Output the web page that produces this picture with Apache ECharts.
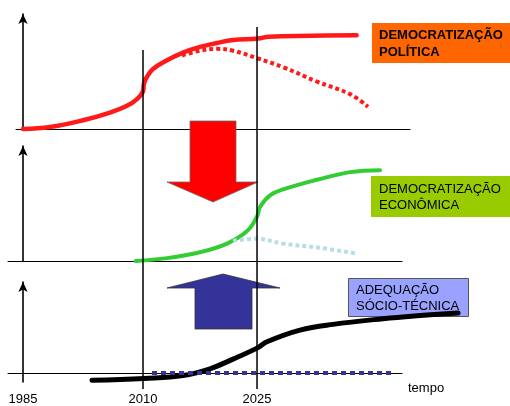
<!DOCTYPE html>
<html>
<head>
<meta charset="utf-8">
<script src="https://cdn.jsdelivr.net/npm/echarts@6/dist/echarts.min.js"></script>
<style>
  html, body { margin: 0; padding: 0; background: #fff; }
  #chart { width: 510px; height: 406px; }
</style>
</head>
<body>
<div id="chart"></div>
<script>
// Timeline ticks (schematic time index; 1985 = 0, 2010 = 100)
const tickYears = ['1985', '2010', '2025'];
const tickPos = [0, 100, 195];
const timeAxisName = 'tempo';

// Democratização política: realised path and the declining alternative
const politicaX = [0, 22.5, 50, 72.5, 86.7, 95, 100, 100.8, 103.3, 108.3, 120, 133.3, 147.5, 161.7, 175, 195.8, 205, 240, 278];
const politicaY = [0, 1.7, 7.6, 14.3, 20.2, 26, 32.8, 39.5, 45.4, 52.1, 59.7, 66.4, 71.4, 74.8, 77.3, 78.6, 80.3, 81, 81.6];
const politicaAltX = [132.5, 147.5, 161.7, 175, 195.8, 216.7, 245, 272.5, 287.5];
const politicaAltY = [63.9, 68.1, 69.7, 68.1, 61.3, 53.8, 41.2, 30.3, 19.3];

// Democratização econômica and its stagnating alternative
const economicaX = [94, 120, 147.5, 170, 186.7, 195, 197.5, 205.8, 216.7, 245, 272.5, 297.5];
const economicaY = [0, 2.5, 7.6, 15.1, 26, 38.7, 47, 57.1, 62.2, 70.6, 77.3, 79];
const economicaAltX = [175, 195, 216.7, 245, 276.7];
const economicaAltY = [17.6, 19.3, 15.1, 11.8, 6.7];

// Adequação sócio-técnica and the flat alternative
const adequacaoX = [57.5, 100.8, 133.3, 155.8, 175, 195.8, 203.3, 230.8, 258.3, 300, 328.3, 362.5];
const adequacaoY = [0, 2, 4.9, 11.8, 21.6, 33.3, 39.2, 51, 56.9, 62.7, 65.7, 68.6];
const adequacaoAltX = [107.5, 308];
const adequacaoAltY = [0, 0];

// Vertical guides at 2010 and 2025 (overlay units: 0 = top of canvas)
const guideX = [100, 195];
const guideTop = [50, 27];
const guideBottom = [389, 389];

const FONT = 'Liberation Sans, Arial, sans-serif';
const zip = (xs, ys) => xs.map((x, i) => [x, ys[i]]);

const chart = echarts.init(document.getElementById('chart'), null, { renderer: 'canvas' });

const baseX = (min, max, extra) => Object.assign({
  type: 'value', min: min, max: max,
  axisLine: { show: true, onZero: true, lineStyle: { color: '#000', width: 1 } },
  axisTick: { show: false }, axisLabel: { show: false }, splitLine: { show: false }
}, extra || {});

const baseY = (min, max) => ({
  type: 'value', min: min, max: max,
  axisLine: { show: true, onZero: true, symbol: ['none', 'arrow'], symbolSize: [7, 10],
    lineStyle: { color: '#000', width: 1.6 } },
  axisTick: { show: false }, axisLabel: { show: false }, splitLine: { show: false }
});

const hiddenAxis = (grid, min, max, inverse) => ({
  gridIndex: grid, type: 'value', min: min, max: max, inverse: !!inverse, show: false
});

const option = {
  backgroundColor: '#fff',
  animation: false,
  grid: [
    { left: 16, right: 100, top: 14, bottom: 277 },   // política
    { left: 8, right: 108, top: 146, bottom: 145 },   // econômica
    { left: 8, right: 108, top: 282, bottom: 16 },    // sócio-técnica (axes)
    { left: 8, right: 108, top: 0, bottom: 0 },       // full-height guides
    { left: 8, right: 0, top: 282, bottom: 16 }       // sócio-técnica curve, wider span
  ],
  xAxis: [
    baseX(-5.83, 322.5, { gridIndex: 0 }),
    baseX(-12.5, 315.8, { gridIndex: 1 }),
    baseX(-12.5, 315.8, {
      gridIndex: 2,
      axisLabel: {
        show: true, customValues: tickPos, margin: 11,
        fontFamily: FONT, fontSize: 13, color: '#000',
        formatter: v => tickYears[tickPos.indexOf(v)] || ''
      }
    }),
    hiddenAxis(3, -12.5, 315.8),
    hiddenAxis(4, -12.5, 405.8)
  ],
  yAxis: [
    Object.assign(baseY(0, 100), { gridIndex: 0 }),
    Object.assign(baseY(0, 100), { gridIndex: 1 }),
    Object.assign(baseY(-9.8, 100), { gridIndex: 2 }),
    hiddenAxis(3, 0, 406, true),
    hiddenAxis(4, -9.8, 100)
  ],
  graphic: [
    // Time axis title, just below the end of the bottom baseline
    { type: 'text', z: 1, x: 408, y: 382,
      style: { text: timeAxisName, font: '13px ' + FONT, fill: '#000' } },
    // Red arrow pointing down
    { type: 'polygon', z: 1,
      shape: { points: [[190, 121], [236, 121], [236, 182], [258, 182], [213, 202], [167, 182], [190, 182]] },
      style: { fill: '#ff0000', stroke: '#6b6b6b', lineWidth: 0.8 } },
    // Blue arrow pointing up
    { type: 'polygon', z: 1,
      shape: { points: [[195, 329], [252, 329], [252, 288], [280, 288], [223, 274], [167, 288], [195, 288]] },
      style: { fill: '#333399', stroke: '#333', lineWidth: 0.8 } },
    // Label boxes
    { type: 'rect', z: 1, shape: { x: 372, y: 23, width: 140, height: 40 }, style: { fill: '#ff6600' } },
    { type: 'text', z: 1, x: 379, y: 27,
      style: { text: 'DEMOCRATIZAÇÃO\nPOLÍTICA', font: 'bold 13px ' + FONT, fill: '#000', lineHeight: 17 } },
    { type: 'rect', z: 1, shape: { x: 371, y: 176, width: 141, height: 41 }, style: { fill: '#99cc00' } },
    { type: 'text', z: 1, x: 379, y: 181,
      style: { text: 'DEMOCRATIZAÇÃO\nECONÔMICA', font: '13px ' + FONT, fill: '#000', lineHeight: 16 } },
    { type: 'rect', z: 1, shape: { x: 348.5, y: 278.5, width: 120, height: 38 },
      style: { fill: '#99a3ff', stroke: '#555', lineWidth: 1 } },
    { type: 'text', z: 1, x: 356, y: 282,
      style: { text: 'ADEQUAÇÃO\nSÓCIO-TÉCNICA', font: '13px ' + FONT, fill: '#000', lineHeight: 16 } }
  ],
  series: [
    { type: 'line', xAxisIndex: 0, yAxisIndex: 0, data: zip(politicaX, politicaY),
      smooth: 0.4, showSymbol: false, clip: false,
      lineStyle: { color: '#ff1a1a', width: 4.5, cap: 'round' } },
    { type: 'line', xAxisIndex: 0, yAxisIndex: 0, data: zip(politicaAltX, politicaAltY),
      smooth: 0.4, showSymbol: false, clip: false,
      lineStyle: { color: '#ff1a1a', width: 4, type: [4, 3] } },
    { type: 'line', xAxisIndex: 1, yAxisIndex: 1, data: zip(economicaX, economicaY),
      smooth: 0.4, showSymbol: false, clip: false,
      lineStyle: { color: '#33cc33', width: 4, cap: 'round' } },
    { type: 'line', xAxisIndex: 1, yAxisIndex: 1, data: zip(economicaAltX, economicaAltY),
      smooth: 0.4, showSymbol: false, clip: false,
      lineStyle: { color: '#b7dde6', width: 4, type: [4, 3] } },
    { type: 'line', xAxisIndex: 4, yAxisIndex: 4, data: zip(adequacaoX, adequacaoY),
      smooth: 0.4, showSymbol: false, clip: false,
      lineStyle: { color: '#000', width: 5, cap: 'round' } },
    { type: 'line', xAxisIndex: 2, yAxisIndex: 2, data: zip(adequacaoAltX, adequacaoAltY),
      showSymbol: false, clip: false,
      lineStyle: { color: '#333399', width: 4, type: [5, 4] } },
    // Vertical guides
    ...guideX.map((x, i) => ({
      type: 'line', xAxisIndex: 3, yAxisIndex: 3,
      data: [[x, guideTop[i]], [x, guideBottom[i]]],
      showSymbol: false, silent: true,
      lineStyle: { color: '#000', width: 1.5 }
    }))
  ]
};

chart.setOption(option);
</script>
</body>
</html>
